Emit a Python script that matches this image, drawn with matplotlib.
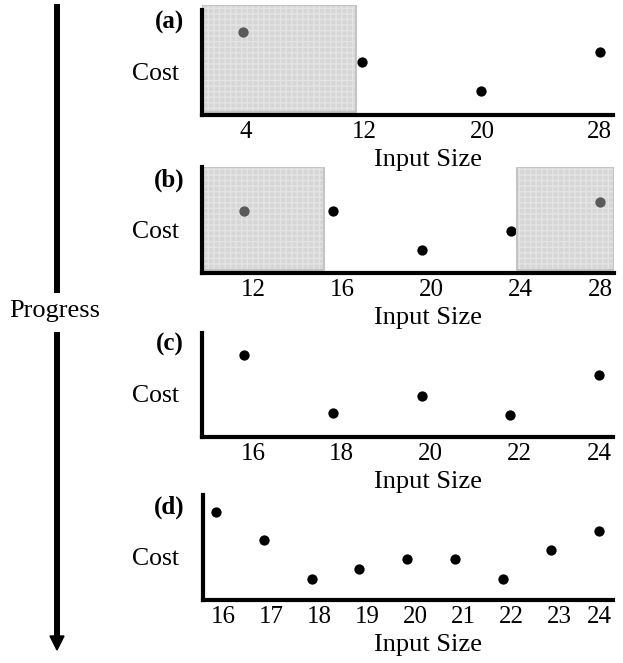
import matplotlib
matplotlib.use("Agg")
import matplotlib.pyplot as plt
import matplotlib.transforms as mtransforms
from matplotlib.patches import Polygon

plt.rcParams['font.family'] = ['Liberation Serif', 'DejaVu Serif']

# data (cost in arbitrary units)
a_x = [4, 12, 20, 28]
a_cost = [83, 53, 24, 63]
a_faded = [True, False, False, False]
a_shade = [(1.2, 11.6)]
a_ticks = [4, 12, 20, 28]

b_x = [12, 16, 20, 24, 28]
b_cost = [62, 62, 23, 42, 71]
b_faded = [True, False, False, False, True]
b_shade = [(10.1, 15.6), (24.25, 28.62)]
b_ticks = [12, 16, 20, 24, 28]

c_x = [16, 18, 20, 22, 24]
c_cost = [82, 24, 41, 22, 62]
c_faded = [False] * 5
c_shade = []
c_ticks = [16, 18, 20, 22, 24]

d_x = [16, 17, 18, 19, 20, 21, 22, 23, 24]
d_cost = [88, 60, 21, 31, 41, 41, 21, 50, 69]
d_faded = [False] * 9
d_shade = []
d_ticks = [16, 17, 18, 19, 20, 21, 22, 23, 24]

panel_labels = ['(a)', '(b)', '(c)', '(d)']

W, H = 623, 663
fig = plt.figure(figsize=(W / 100, H / 100), dpi=100)


def px_axes(left, top, right, bottom):
    return fig.add_axes([left / W, 1 - bottom / H, (right - left) / W, (bottom - top) / H])


panels = [
    # x, cost, faded, shade, ticks, box (l, t, r, b), xlim, spine top, tick shift
    (a_x, a_cost, a_faded, a_shade, a_ticks, (201.7, 5, 613, 115), (1.2, 28.9), 105, 2),
    (b_x, b_cost, b_faded, b_shade, b_ticks, (201.7, 167, 614, 273.3), (10.08, 28.62), 106, 9),
    (c_x, c_cost, c_faded, c_shade, c_ticks, (202.3, 332.7, 613, 437.3), (15.06, 24.31), 104.6, 9),
    (d_x, d_cost, d_faded, d_shade, d_ticks, (202.7, 495, 613, 600), (15.73, 24.29), 105, 8),
]

for i, (xs, cost, faded, shade, ticks, box, xlim, spine_top, shift) in enumerate(panels):
    l, t, r, b = box
    ax = px_axes(l, t, r, b)
    ax.patch.set_visible(False)
    h = b - t
    ax.set_xlim(*xlim)
    ax.set_ylim(0, h)

    for x0, x1 in shade:
        ax.fill_between([x0, x1], 3, h, facecolor='#d6d6d6', edgecolor='#e4e4e4',
                        hatch='+++', linewidth=0, zorder=3)
        ax.fill_between([x0, x1], 3, h, facecolor='none', edgecolor='#c4c4c4',
                        linewidth=1.5, zorder=3)

    for x, c, f in zip(xs, cost, faded):
        if f:
            ax.scatter(x, c, s=55, color='#5a5a5a', zorder=4, linewidths=0)
        else:
            ax.scatter(x, c, s=55, color='black', zorder=2, linewidths=0)

    for side in ['top', 'right']:
        ax.spines[side].set_visible(False)
    ax.spines['left'].set_linewidth(3)
    ax.spines['bottom'].set_linewidth(3)
    ax.spines['left'].set_bounds(0, spine_top)
    ax.spines['left'].set_zorder(5)
    ax.spines['bottom'].set_zorder(5)

    ax.set_yticks([])
    ax.set_xticks(ticks)
    ax.set_xticklabels([str(v) for v in ticks])
    ax.tick_params(axis='x', length=0, pad=4, labelsize=18)
    offset = mtransforms.ScaledTranslation(shift / 100, 0, fig.dpi_scale_trans)
    for lab in ax.get_xticklabels()[:-1]:
        lab.set_transform(lab.get_transform() + offset)

    ax.set_xlabel('Input Size', fontsize=19)
    ax.xaxis.set_label_coords((428 - l) / (r - l), -34 / h)
    ax.xaxis.label.set_va('top')

    # "Cost" and panel tag on the left
    fig.text(184 / W, 1 - (b - 93) / H, panel_labels[i], ha='right', va='center',
             fontsize=18, fontweight='bold')
    fig.text(179 / W, 1 - (b - 41) / H, 'Cost', ha='right', va='center', fontsize=18.5)

# Progress arrow down the left side
bg = fig.add_axes([0, 0, 1, 1], zorder=-1)
bg.set_xlim(0, W)
bg.set_ylim(H, 0)
bg.axis('off')
bg.plot([57, 57], [4, 293], color='black', linewidth=4.3, solid_capstyle='butt')
bg.plot([57, 57], [332, 637], color='black', linewidth=4.3, solid_capstyle='butt')
bg.add_patch(Polygon([[50, 636], [64, 636], [57, 650]], closed=True, color='black'))
bg.text(55, 311, 'Progress', ha='center', va='center', fontsize=19)

fig.savefig('out.png', dpi=100)
